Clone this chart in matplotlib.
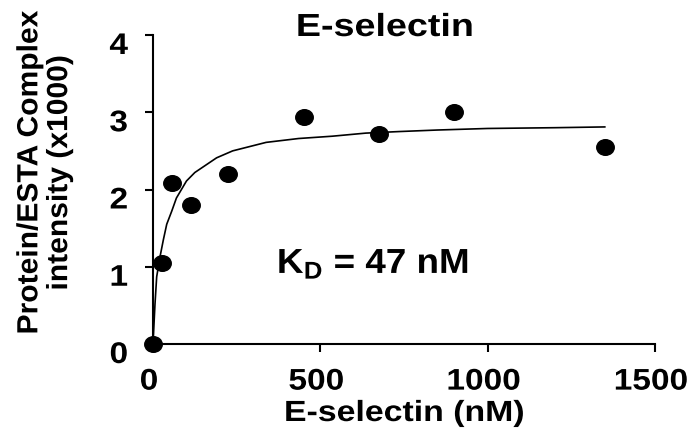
import matplotlib
matplotlib.use("Agg")
from matplotlib import pyplot as plt
from matplotlib.path import Path
from matplotlib.patheffects import AbstractPathEffect
from matplotlib.transforms import Affine2D, ScaledTranslation

# measured binding data (E-selectin, nM vs intensity x1000)
conc = [0, 28, 56, 112.5, 225, 450, 675, 900, 1350]
intensity = [0.0, 1.05, 2.08, 1.80, 2.20, 2.94, 2.72, 3.00, 2.55]

# fitted saturation curve
fit_x = [0, 6, 11, 21, 31, 41, 56, 70, 100, 125, 190, 238, 338, 435, 536, 636, 735, 850, 1000, 1200, 1350]
fit_y = [0, 0.52, 0.87, 1.13, 1.35, 1.55, 1.72, 1.89, 2.11, 2.22, 2.41, 2.50, 2.61, 2.66, 2.69, 2.73, 2.75, 2.77, 2.79, 2.80, 2.81]

x_ticks = [0, 500, 1000, 1500]
y_ticks = [0, 1, 2, 3, 4]


class Stretch(AbstractPathEffect):
    """Widen text glyphs along the text direction (the original font is wider than Arial)."""

    def __init__(self, sx, anchor="center"):
        super().__init__()
        self.sx = sx
        self.anchor = anchor

    def draw_path(self, renderer, gc, tpath, affine, rgbFace=None):
        ext = tpath.get_extents()
        cx = {"left": ext.x0, "center": (ext.x0 + ext.x1) / 2, "right": ext.x1}[self.anchor]
        stretch = Affine2D().translate(-cx, 0).scale(self.sx, 1).translate(cx, 0)
        renderer.draw_path(gc, tpath, stretch + affine, rgbFace)


plt.rcParams["font.family"] = ["Liberation Sans", "DejaVu Sans"]
plt.rcParams["font.weight"] = "bold"
plt.rcParams["mathtext.fontset"] = "custom"
plt.rcParams["mathtext.rm"] = "Liberation Sans:bold"

fig = plt.figure(figsize=(6.91, 4.32), dpi=100)
ax = fig.add_axes([153 / 691, 88 / 432, 502 / 691, 309 / 432])

# slightly wide dots, as in the original
dot = Affine2D().scale(1.12, 1).transform_path(Path.unit_circle())

ax.plot(fit_x, fit_y, color="black", linewidth=1.2, zorder=2)
ax.plot(conc, intensity, linestyle="none", marker=dot, color="black", markersize=12.6,
        zorder=3, clip_on=False)

ax.set_xlim(0, 1500)
ax.set_ylim(0, 4)
ax.set_xticks(x_ticks)
ax.set_yticks(y_ticks)
ax.tick_params(axis="both", direction="out", length=6, width=1.5, labelsize=21.5)
ax.tick_params(axis="x", pad=11)
ax.tick_params(axis="y", pad=12)

for lbl in ax.get_xticklabels():
    lbl.set_fontweight("bold")
    lbl.set_path_effects([Stretch(1.12, "center")])
    lbl.set_transform(lbl.get_transform() + ScaledTranslation(-4 / 100, 0, fig.dpi_scale_trans))
for lbl in ax.get_yticklabels():
    lbl.set_fontweight("bold")
    lbl.set_path_effects([Stretch(1.12, "right")])
    lbl.set_transform(lbl.get_transform() + ScaledTranslation(0, -8 / 100, fig.dpi_scale_trans))

ax.spines["top"].set_visible(False)
ax.spines["right"].set_visible(False)
ax.spines["left"].set_linewidth(1.5)
ax.spines["bottom"].set_linewidth(1.5)

fig.text(385 / 691, 1 - 36 / 432, "E-selectin", ha="center", va="baseline", fontsize=23,
         fontweight="bold", path_effects=[Stretch(1.18, "center")])
fig.text(0.585, 1 - 421 / 432, "E-selectin (nM)", ha="center", va="baseline", fontsize=21,
         fontweight="bold", path_effects=[Stretch(1.16, "center")])
fig.text(0.064, 0.6, "Protein/ESTA Complex\nintensity (x1000)", ha="center", va="center",
         rotation=90, fontsize=21, fontweight="bold", linespacing=1.08,
         path_effects=[Stretch(1.03, "center")])

ax.text(277 / 691, 1 - 273 / 432, r"K$_\mathrm{D}$ = 47 nM", transform=fig.transFigure,
        ha="left", va="baseline", fontsize=25, fontweight="bold",
        path_effects=[Stretch(1.06, "left")])

fig.savefig("out.png", dpi=100)
